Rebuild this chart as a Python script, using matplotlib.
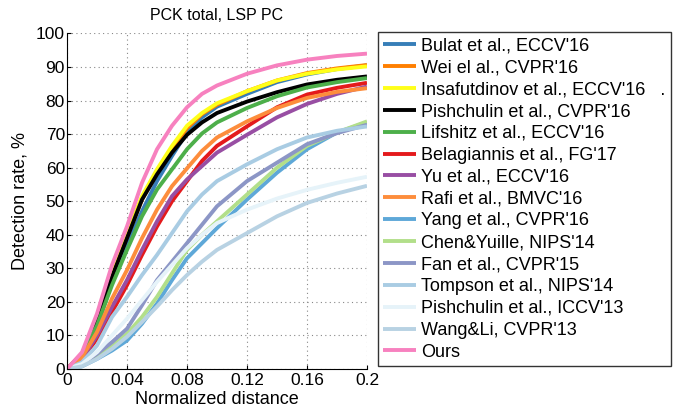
import numpy as np
import matplotlib
matplotlib.use('Agg')
import matplotlib.pyplot as plt

plt.rcParams['font.family'] = ['Liberation Sans', 'DejaVu Sans']

# normalized distance samples
x = [0, .01, .02, .03, .04, .05, .06, .07, .08, .09, .10, .12, .14, .16, .18, .20]

bulat = [0, 3.5, 12.5, 26, 37, 47, 56, 63.5, 70.5, 75, 78.2, 82, 85.5, 87.8, 89.4, 90.5]
wei = [0, 4, 14, 28, 39.5, 50.5, 58.5, 65.5, 71.8, 76, 78.8, 82.8, 86, 88.2, 89.6, 90.6]
insafutdinov = [0, 4.5, 15, 29, 40.5, 51.5, 59.5, 66.5, 72.5, 76.3, 79.2, 82.8, 86, 88, 89.3, 90.2]
pishchulin16 = [0, 4.5, 14.5, 27.5, 39, 50.5, 58, 64.5, 69.8, 73.5, 76.3, 79.7, 82.5, 84.8, 86.2, 87.2]
lifshitz = [0, 4, 13, 25, 35.5, 45.5, 53.5, 59.5, 65.5, 70.2, 73.5, 77.8, 81.3, 83.9, 85.5, 86.7]
belagiannis = [0, 3, 9, 17, 25, 34, 42.5, 50, 56, 62, 66.5, 72.3, 78, 81.8, 83.8, 85.3]
yu = [0, 3, 10, 18.5, 26.5, 35.5, 44, 51.5, 56.5, 60.5, 64.5, 69.8, 75, 79, 82, 84.2]
rafi = [0, 3.5, 11, 21, 29.5, 39, 47.5, 54.5, 59.8, 65, 69, 73.8, 77.8, 80.8, 82.6, 83.7]
yang = [0, 0.8, 3, 5.5, 8.5, 13.5, 19.5, 26.5, 33, 37.5, 42, 50.5, 58.5, 65.5, 70.5, 73.5]
chen = [0, 1, 3.5, 7, 10.5, 15.5, 21.5, 28.5, 35.5, 40, 44, 52, 60, 66.5, 70.5, 73.8]
fan = [0, 1.5, 4.5, 8, 12, 19, 26.5, 32, 37.5, 43, 48.5, 56, 61.5, 67, 70.3, 72.8]
tompson = [0, 2, 7, 15.5, 21.5, 28, 34, 40.5, 47, 52, 56, 61, 65.5, 69, 71, 72.3]
pishchulin13 = [0, 1.5, 5, 10, 15, 20.5, 26, 31, 36, 40, 43.5, 47.5, 50.8, 53.4, 55.5, 57.3]
wangli = [0, 0.8, 3, 6, 9.6, 14, 18.6, 23.5, 28, 32, 35.5, 40.5, 45.5, 49.5, 52.3, 54.6]
ours = [0, 5, 16.5, 31, 42.5, 55.5, 65.5, 72.5, 78, 82, 84.5, 88, 90.5, 92.2, 93.3, 94]

labels = ["Bulat et al., ECCV'16", "Wei el al., CVPR'16",
          "Insafutdinov et al., ECCV'16   .", "Pishchulin et al., CVPR'16",
          "Lifshitz et al., ECCV'16", "Belagiannis et al., FG'17",
          "Yu et al., ECCV'16", "Rafi et al., BMVC'16", "Yang et al., CVPR'16",
          "Chen&Yuille, NIPS'14", "Fan et al., CVPR'15", "Tompson et al., NIPS'14",
          "Pishchulin et al., ICCV'13", "Wang&Li, CVPR'13", "Ours"]
series = [bulat, wei, insafutdinov, pishchulin16, lifshitz, belagiannis, yu, rafi,
          yang, chen, fan, tompson, pishchulin13, wangli, ours]
colors = ['#377eb8', '#ff7f00', '#ffff1a', '#000000', '#4daf4a', '#e41a1c',
          '#984ea3', '#fd8d3c', '#5ea8d8', '#b2df8a', '#8c96c6', '#a9cce3',
          '#e6f3f9', '#b8d2e3', '#f781bf']

fig = plt.figure(figsize=(6.88, 4.11), dpi=100)
ax = fig.add_axes([0.0974, 0.1022, 0.436, 0.8163])

for ys, lab, c in zip(series, labels, colors):
    ax.plot(x, ys, color=c, lw=2.8, label=lab, solid_capstyle='butt')

ax.set_xlim(0, 0.2)
ax.set_ylim(0, 100)
ax.set_xticks([0, 0.04, 0.08, 0.12, 0.16, 0.2])
ax.set_xticklabels(['0', '0.04', '0.08', '0.12', '0.16', '0.2'])
ax.set_yticks(range(0, 101, 10))
ax.tick_params(direction='in', labelsize=12.5, length=3, width=0.8)
ax.tick_params(axis='x', pad=3)
ax.tick_params(axis='y', pad=1.5)
ax.grid(True, linestyle=(0, (1, 3)), color='#888888', lw=0.8)
ax.spines['top'].set_visible(False)
ax.spines['right'].set_visible(False)
ax.set_xlabel('Normalized distance', fontsize=13, labelpad=2)
ax.set_ylabel('Detection rate, %', fontsize=13, labelpad=5)
ax.set_title('PCK total, LSP PC', fontsize=11.5, pad=10)

leg = fig.legend(loc='upper left', bbox_to_anchor=(0.549, 0.922), fontsize=13,
                 frameon=True, fancybox=False, edgecolor='black',
                 handlelength=1.8, handletextpad=0.3, labelspacing=0.27,
                 borderpad=0.3, borderaxespad=0)
leg.get_frame().set_linewidth(1.0)
for l in leg.get_lines():
    l.set_linewidth(2.8)

fig.savefig('out.png', dpi=100)
